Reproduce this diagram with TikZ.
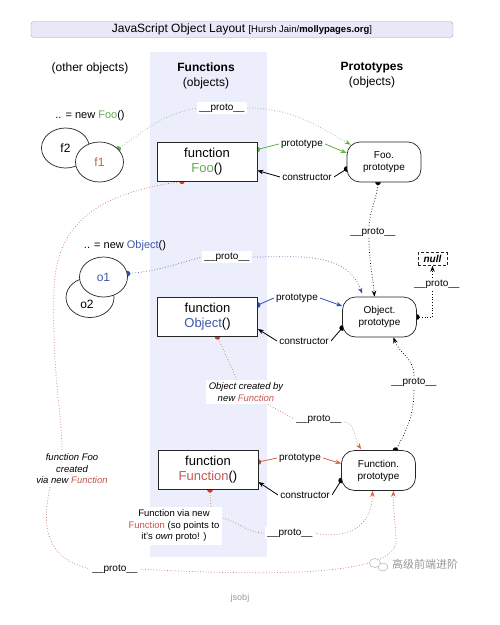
\documentclass[tikz,border=0pt]{standalone}
\usepackage{fontspec}
\setmainfont{Liberation Sans}
\newfontfamily\cjkfont{Noto Sans CJK SC}
\usetikzlibrary{arrows.meta,calc,shapes.geometric}
\pgfdeclarelayer{back}
\pgfdeclarelayer{mid}
\pgfsetlayers{back,mid,main}
\definecolor{colbg}{RGB}{236,238,252}
\definecolor{titlebg}{RGB}{232,232,248}
\definecolor{titledraw}{RGB}{165,165,190}
\definecolor{jsgreen}{RGB}{96,176,72}
\definecolor{foogreen}{RGB}{100,170,80}
\definecolor{gdot}{RGB}{150,190,140}
\definecolor{jsblue}{RGB}{50,80,180}
\definecolor{objblue}{RGB}{60,90,170}
\definecolor{bdot}{RGB}{90,110,170}
\definecolor{jsred}{RGB}{200,60,40}
\definecolor{jsorange}{RGB}{215,100,60}
\definecolor{rdot}{RGB}{205,120,110}
\definecolor{fnred}{RGB}{200,85,80}
\definecolor{fonecol}{RGB}{190,100,70}
\definecolor{wmgray}{RGB}{150,150,150}
\newcommand\fz[2]{\fontsize{#1}{#2}\selectfont}
\begin{document}
\begin{tikzpicture}[x=1pt,y=-1pt,
  fnbox/.style={draw=black!85, line width=0.7pt, fill=white, minimum width=100pt, minimum height=39pt, align=center, inner sep=0pt, font=\fz{13}{15}},
  prbox/.style={draw=black!85, line width=0.7pt, fill=white, rounded corners=13pt, minimum width=74pt, minimum height=40pt, align=center, inner sep=0pt, font=\fz{10}{12}},
  objell/.style={ellipse, draw=black!85, line width=0.7pt, fill=white, minimum width=48pt, minimum height=40pt, inner sep=0pt, font=\fz{12}{14}},
  lbl/.style={fill=white, inner sep=2pt, font=\fz{10}{12}},
  note/.style={fill=white, inner sep=3pt, align=center, font=\fz{9.5}{11.5}\itshape},
  hdr/.style={align=center, font=\fz{12}{15}},
  dotl/.style={dotted, line width=0.75pt},
  solidl/.style={line width=0.8pt},
  dotstart/.style={{Circle[length=5.5pt,color=#1]}-, shorten <=-2.75pt},
  tipend/.style={-{Stealth[length=6pt,width=4.5pt,color=#1]}}
]
\path[use as bounding box] (0,0) rectangle (500,625);
\begin{pgfonlayer}{back}
  \fill[colbg] (150,52) rectangle (267,557);
\end{pgfonlayer}

% title and headers
\node[draw=titledraw, fill=titlebg, rounded corners=3pt, minimum width=422pt, minimum height=16pt, inner sep=0pt, font=\fz{12}{14}] (title) at (242,29.5)
  {JavaScript Object Layout {\fz{9.5}{11}[Hursh Jain/\textbf{mollypages.org}]}};
\node[hdr] (hdrother) at (90,68) {(other objects)};
\node[hdr] (hdrfun) at (206,75.5) {\textbf{Functions}\\(objects)};
\node[hdr] (hdrproto) at (372,75.5) {\textbf{Prototypes}\\(objects)};

% other objects
\node[font=\fz{11}{13}] (newfoo) at (90,116) {.. = new \textcolor{foogreen}{Foo}()};
\node[objell] (f2) at (65.5,148) {f2};
\node[objell] (f1) at (99.5,162) {\textcolor{fonecol}{f1}};
\node[font=\fz{11}{13}] (newobj) at (125,246) {.. = new \textcolor{objblue}{Object}()};
\node[objell, label={[font=\fz{12}{14}, xshift=-3pt, yshift=-7pt]center:o2}] (o2) at (90,297.5) {};
\node[objell] (o1) at (103.5,277) {\textcolor{objblue}{o1}};

% functions
\node[fnbox] (ffoo) at (207,161.5) {function\\\textcolor{foogreen}{Foo}()};
\node[fnbox] (fobj) at (207.5,317) {function\\\textcolor{objblue}{Object}()};
\node[fnbox] (ffun) at (208,470) {function\\\textcolor{fnred}{Function}()};

% prototypes
\node[prbox] (pfoo) at (384,162) {Foo.\\prototype};
\node[prbox] (pobj) at (379.5,317) {Object.\\prototype};
\node[prbox] (pfun) at (378.5,470.5) {Function.\\prototype};
\node[draw=black!85, densely dashed, fill=white, line width=0.6pt, inner sep=1.5pt, minimum width=29pt, minimum height=13pt, font=\fz{10}{12}\bfseries\itshape] (null) at (432.5,259) {null};

% labels
\node[lbl] (lproto1) at (222,108) {\_\_proto\_\_};
\node[lbl] (lprot1) at (302,144) {prototype};
\node[lbl] (lcons1) at (307,177) {constructor};
\node[lbl] (lproto2) at (373,232) {\_\_proto\_\_};
\node[lbl] (lproto3) at (227,257) {\_\_proto\_\_};
\node[lbl] (lprot2) at (297,298) {prototype};
\node[lbl] (lcons2) at (304,341) {constructor};
\node[lbl] (lproto4) at (437,284) {\_\_proto\_\_};
\node[lbl] (lproto5) at (414,382) {\_\_proto\_\_};
\node[note] (lcreated) at (246,392) {Object created by\\new \textcolor{fnred}{Function}};
\node[lbl] (lproto6) at (319,419) {\_\_proto\_\_};
\node[lbl] (lprot3) at (300,458) {prototype};
\node[lbl] (lcons3) at (305,495) {constructor};
\node[note, font=\fz{9.5}{11.5}] (lviafn) at (174,526) {Function via new\\\textcolor{fnred}{Function} (so points to\\it's \textit{own} proto! )};
\node[lbl] (lproto7) at (290,533) {\_\_proto\_\_};
\node[note] (lfoocreated) at (72,469) {function Foo\\created\\via new \textcolor{fnred}{Function}};
\node[lbl] (lproto8) at (115,569) {\_\_proto\_\_};
\node[font=\fz{9}{11}, text=black!40] (jsobj) at (240,598) {jsobj};

% watermark
\node[font=\fz{11}{13}\cjkfont, text=wmgray] (wm) at (425,564) {高级前端进阶};
\node[ellipse, draw=wmgray!70, fill=white, line width=0.5pt, minimum width=11pt, minimum height=9pt, inner sep=0pt] (wmi1) at (375,563) {};
\node[ellipse, draw=wmgray!70, fill=white, line width=0.5pt, minimum width=10pt, minimum height=8pt, inner sep=0pt] (wmi2) at (383,567) {};

\begin{pgfonlayer}{mid}
% f1 -> Foo.prototype
\draw[dotl, gdot, dotstart=jsgreen] (f1.35) to[out=35,in=190] (lproto1.west);
\draw[dotl, gdot, tipend=jsgreen] (lproto1.east) to[out=0,in=150] ($(pfoo.north west)+(4,3)$);
% Foo prototype / constructor
\draw[solidl, jsgreen, dotstart=jsgreen] ([yshift=12pt]ffoo.east) -- (lprot1.west);
\draw[solidl, jsgreen, tipend=jsgreen] (lprot1.east) -- ([yshift=9pt]pfoo.west);
\draw[solidl, black, dotstart=black] ([yshift=-7pt]pfoo.west) -- (lcons1.east);
\draw[solidl, black, tipend=black] (lcons1.west) -- ([yshift=-9pt]ffoo.east);
% Foo.prototype -> Object.prototype
\draw[dotl, black, dotstart=black] ([xshift=-6pt]pfoo.south) to[out=-95,in=85] ([xshift=-4pt]lproto2.north);
\draw[dotl, black, tipend=black] ([xshift=-4pt]lproto2.south) to[out=-90,in=95] ([xshift=-5pt]pobj.north);
% o1 -> Object.prototype
\draw[dotl, bdot, dotstart=jsblue] (o1.8) to[out=5,in=195] (lproto3.west);
\draw[dotl, bdot, tipend=jsblue] (lproto3.east) to[out=0,in=110] ($(pobj.north west)+(20,-3)$);
% Object prototype / constructor
\draw[solidl, jsblue, dotstart=jsblue] ([yshift=12pt]fobj.east) -- (lprot2.west);
\draw[solidl, jsblue, tipend=jsblue] (lprot2.east) -- ([yshift=11pt]pobj.west);
\draw[solidl, black, dotstart=black] ([yshift=-11pt]pobj.west) -- (lcons2.east);
\draw[solidl, black, tipend=black] (lcons2.west) -- ([yshift=-12pt]fobj.east);
% Object.prototype -> null
\draw[dotl, black, dotstart=black] (pobj.east) -| ([xshift=-4.5pt]lproto4.south);
\draw[dotl, black, tipend=black] ([xshift=-4.5pt]lproto4.north) -- (null.south);
% Function.prototype -> Object.prototype
\draw[dotl, black, dotstart=black] ([xshift=17pt]pfun.north) to[out=60,in=-90] (lproto5.south);
\draw[dotl, black, tipend=black] (lproto5.north) to[out=90,in=-70] ([xshift=14pt]pobj.south);
% Object() -> Function.prototype
\draw[dotl, rdot, dotstart=jsred] ([xshift=10pt]fobj.south) -- ([xshift=-9pt]lcreated.north);
\draw[dotl, rdot] ([xshift=22pt]lcreated.south) -- (lproto6.west);
\draw[dotl, rdot, tipend=jsorange] ([yshift=-3pt]lproto6.east) to[out=-5,in=125] ($(pfun.north west)+(20,-1)$);
% Function prototype / constructor
\draw[solidl, jsorange, dotstart=jsred] ([yshift=8pt]ffun.east) -- (lprot3.west);
\draw[solidl, jsorange, tipend=jsorange] (lprot3.east) -- ([yshift=7pt]pfun.west);
\draw[solidl, black, dotstart=black] ([yshift=-10pt]pfun.west) -- (lcons3.east);
\draw[solidl, black, tipend=black] (lcons3.west) -- ([yshift=-12pt]ffun.east);
% Function() -> Function.prototype (own proto)
\draw[dotl, rdot, dotstart=jsred] ([xshift=2pt]ffun.south) -- ([xshift=37pt]lviafn.north);
\draw[dotl, rdot] ([yshift=8pt]lviafn.east) to[out=-15,in=180] (lproto7.west);
\draw[dotl, rdot, tipend=jsorange] (lproto7.east) .. controls (350,540) and (372,525) .. ([xshift=-6pt]pfun.south);
% Foo() -> Function.prototype (big loop)
\draw[dotl, rdot, dotstart=jsred] ([xshift=-25pt]ffoo.south) .. controls (110,192) and (56,215) .. (54,290) .. controls (52,380) and (62,410) .. ([xshift=-10pt]lfoocreated.north);
\draw[dotl, rdot] ([xshift=-22pt]lfoocreated.south) .. controls (42,525) and (44,558) .. (lproto8.west);
\draw[dotl, rdot, tipend=jsorange] (lproto8.east) .. controls (300,578) and (398,572) .. (396,540) .. controls (395,520) and (393,505) .. ([xshift=15pt]pfun.south);
\end{pgfonlayer}
\end{tikzpicture}
\end{document}
